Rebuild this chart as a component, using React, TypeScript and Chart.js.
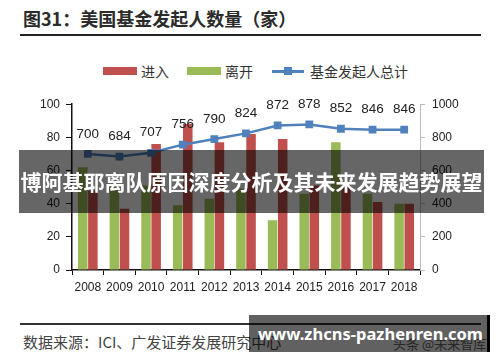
import React, { useEffect, useRef } from "react";
import { Chart, registerables } from "chart.js";

Chart.register(...registerables);

const years = ["2008", "2009", "2010", "2011", "2012", "2013", "2014", "2015", "2016", "2017", "2018"];
const entered = [48, 37, 76, 88, 77, 82, 79, 51, 51, 41, 40];
const exited = [62, 52, 51, 39, 43, 49, 30, 46, 77, 46, 40];
const totals = [700, 684, 707, 756, 790, 824, 872, 878, 852, 846, 846];
const leftTicks = [0, 20, 40, 60, 80, 100];
const rightTicks = [0, 200, 400, 600, 800, 1000];

const RED = "#C0504D";
const GREEN = "#9BBB59";
const BLUE = "#4F81BD";
const NUM_FONT = "'Liberation Sans', Arial, sans-serif";
const CJK = "'Noto Sans CJK SC', 'Noto Sans', sans-serif";

const pointLabels = {
  id: "pointLabels",
  afterDatasetsDraw(chart: any) {
    const meta = chart.getDatasetMeta(2);
    const ctx = chart.ctx;
    ctx.save();
    ctx.font = `13.5px ${NUM_FONT}`;
    ctx.fillStyle = "#222";
    ctx.textAlign = "center";
    ctx.textBaseline = "middle";
    meta.data.forEach((pt: any, i: number) => {
      ctx.fillText(String(totals[i]), pt.x, pt.y - 20);
    });
    ctx.restore();
  },
};

export default function App() {
  const ref = useRef<HTMLCanvasElement | null>(null);

  useEffect(() => {
    if (!ref.current) return;
    const tickFont = { family: NUM_FONT, size: 12 };
    const chart = new Chart(ref.current, {
      type: "bar",
      data: {
        labels: years,
        datasets: [
          {
            label: "进入",
            data: entered,
            backgroundColor: RED,
            yAxisID: "y",
            order: 2,
            categoryPercentage: 0.64,
            barPercentage: 0.94,
          } as any,
          {
            label: "离开",
            data: exited,
            backgroundColor: GREEN,
            yAxisID: "y",
            order: 1,
            categoryPercentage: 0.64,
            barPercentage: 0.94,
          } as any,
          {
            type: "line",
            label: "基金发起人总计",
            data: totals,
            borderColor: BLUE,
            backgroundColor: BLUE,
            borderWidth: 2.5,
            pointStyle: "rect",
            pointRadius: 5.5,
            pointBorderWidth: 0,
            yAxisID: "y1",
            order: 0,
            tension: 0,
          } as any,
        ],
      },
      options: {
        animation: false,
        responsive: false,
        maintainAspectRatio: false,
        layout: { padding: { top: 13, left: 0, right: 0, bottom: 0 } },
        plugins: {
          legend: { display: false },
          tooltip: { enabled: false },
          title: { display: false },
        },
        scales: {
          x: {
            offset: true,
            grid: {
              display: true,
              drawOnChartArea: false,
              drawTicks: true,
              tickLength: 5,
              color: "#111",
              offset: true,
            },
            border: { display: true, color: "#111", width: 1.5 },
            ticks: { font: tickFont, color: "#222", padding: 5, maxRotation: 0, autoSkip: false },
            afterFit(scale: any) {
              scale.height = 35;
            },
          },
          y: {
            position: "left",
            min: 0,
            max: 100,
            afterBuildTicks(scale: any) {
              scale.ticks = leftTicks.map((v) => ({ value: v }));
            },
            grid: {
              display: true,
              drawOnChartArea: false,
              drawTicks: true,
              tickLength: 6,
              color: "#111",
            },
            border: { display: true, color: "#111", width: 1.5 },
            ticks: { font: tickFont, color: "#222", padding: 6, callback: (v: any) => String(v) },
            afterFit(scale: any) {
              scale.width = 72;
            },
          },
          y1: {
            position: "right",
            min: 0,
            max: 1000,
            afterBuildTicks(scale: any) {
              scale.ticks = rightTicks.map((v) => ({ value: v }));
            },
            grid: {
              display: true,
              drawOnChartArea: false,
              drawTicks: true,
              tickLength: 5,
              color: "#bbb",
            },
            border: { display: true, color: "#bbb", width: 1 },
            ticks: { font: tickFont, color: "#222", padding: 7, callback: (v: any) => String(v) },
            afterFit(scale: any) {
              scale.width = 80;
            },
          },
        },
      },
      plugins: [pointLabels],
    });
    return () => chart.destroy();
  }, []);

  const abs = (s: React.CSSProperties): React.CSSProperties => ({ position: "absolute", ...s });

  return (
    <div style={abs({ left: 0, top: 0, width: 500, height: 362, background: "#fff", overflow: "hidden", fontFamily: CJK })}>
      {/* title */}
      <div style={abs({ left: 23, top: 7, height: 22, lineHeight: "22px", fontSize: 18, fontWeight: 700, color: "#2b2b2b", whiteSpace: "nowrap" })}>
        图31：美国基金发起人数量（家）
      </div>
      <div style={abs({ left: 20, top: 34, width: 461, height: 1.5, background: "#222" })} />

      {/* legend */}
      <div style={abs({ left: 103, top: 67, width: 34, height: 8, background: RED })} />
      <div style={abs({ left: 141, top: 62, lineHeight: "18px", fontSize: 14, color: "#333", whiteSpace: "nowrap" })}>进入</div>
      <div style={abs({ left: 187, top: 67, width: 34, height: 8, background: GREEN })} />
      <div style={abs({ left: 225, top: 62, lineHeight: "18px", fontSize: 14, color: "#333", whiteSpace: "nowrap" })}>离开</div>
      <div style={abs({ left: 272, top: 70, width: 32, height: 2.5, background: BLUE })} />
      <div style={abs({ left: 284, top: 67, width: 8, height: 8, background: BLUE })} />
      <div style={abs({ left: 310, top: 62, lineHeight: "18px", fontSize: 14, color: "#333", whiteSpace: "nowrap" })}>基金发起人总计</div>

      {/* chart */}
      <canvas ref={ref} width={500} height={215} style={abs({ left: 0, top: 90, width: 500, height: 215 })} />

      {/* bottom rule & source */}
      <div style={abs({ left: 20, top: 323, width: 461, height: 1.5, background: "#333" })} />
      <div style={abs({ left: 23, top: 332, lineHeight: "20px", fontSize: 15, color: "#444", whiteSpace: "nowrap" })}>
        数据来源：ICI、广发证券发展研究中心
      </div>
      <div style={abs({ left: 393, top: 336, lineHeight: "16px", fontSize: 13, color: "#666", whiteSpace: "nowrap" })}>
        头条 @未来智库
      </div>

      {/* overlay banner */}
      <div
        style={abs({
          left: 19,
          top: 150,
          width: 465,
          height: 63,
          background: "rgba(0,0,0,0.6)",
          color: "#fff",
          fontSize: 21,
          fontWeight: 700,
          lineHeight: "63px",
          textAlign: "center",
          whiteSpace: "nowrap",
        })}
      >
        博阿基耶离队原因深度分析及其未来发展趋势展望
      </div>

      {/* watermark */}
      <div
        style={abs({
          left: 249,
          top: 315,
          width: 238,
          height: 37,
          background: "rgba(0,0,0,0.62)",
          color: "#fff",
          fontFamily: "'Noto Sans', 'Open Sans', sans-serif",
          fontSize: 16.5,
          fontWeight: 700,
          lineHeight: "37px",
          paddingLeft: 9,
          boxSizing: "border-box",
          whiteSpace: "nowrap",
        })}
      >
        www.zhcns-pazhenren.com
      </div>
      <div style={abs({ left: 487, top: 315, width: 3, height: 37, background: "#000" })} />
    </div>
  );
}
